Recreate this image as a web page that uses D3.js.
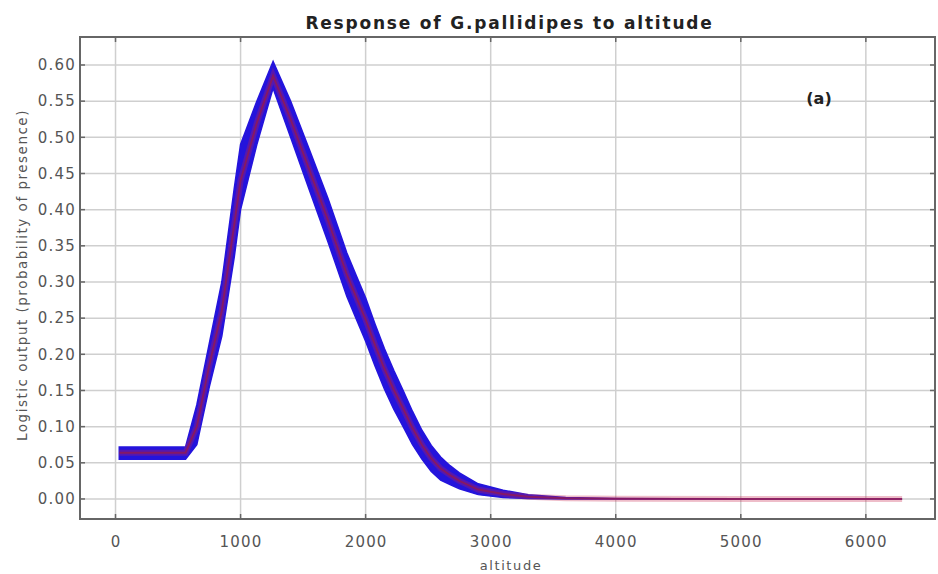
<!DOCTYPE html>
<html>
<head>
<meta charset="utf-8">
<script src="https://cdn.jsdelivr.net/npm/d3@7"></script>
<style>
  body { margin: 0; background: #fff; }
  svg { display: block; font-family: "DejaVu Sans", sans-serif; }
</style>
</head>
<body>
<svg id="chart" width="938" height="574"></svg>
<script>
// response curve (altitude -> logistic output)
// mean = red line, upper/lower = edges of the blue replicate band
const altitude = [30, 560, 650, 750, 850, 950, 1000, 1130, 1260, 1400, 1550, 1700, 1850, 1925, 2000,
  2075, 2150, 2225, 2300, 2375, 2450, 2525, 2600, 2675, 2750, 2900, 3100, 3300, 3600, 4000, 5000, 6290];
const meanValues = [0.064, 0.064, 0.10, 0.185, 0.26, 0.38, 0.44, 0.52, 0.585, 0.525, 0.455, 0.385,
  0.31, 0.279, 0.248, 0.213, 0.18, 0.151, 0.125, 0.098, 0.075, 0.056, 0.042, 0.033, 0.025,
  0.013, 0.007, 0.003, 0.001, 0.0003, 0, 0];
const upperValues = [0.072, 0.072, 0.13, 0.215, 0.30, 0.43, 0.49, 0.55, 0.605, 0.55, 0.483, 0.415,
  0.34, 0.309, 0.278, 0.242, 0.208, 0.178, 0.15, 0.121, 0.095, 0.074, 0.058, 0.046, 0.036,
  0.021, 0.012, 0.006, 0.002, 0.0005, 0, 0];
const lowerValues = [0.055, 0.055, 0.075, 0.155, 0.225, 0.335, 0.40, 0.49, 0.568, 0.50, 0.427, 0.355,
  0.28, 0.249, 0.218, 0.184, 0.152, 0.124, 0.10, 0.075, 0.055, 0.038, 0.026, 0.02, 0.014,
  0.006, 0.002, 0.0005, 0, 0, 0, 0];

const xTicks = [0, 1000, 2000, 3000, 4000, 5000, 6000];
const yTicks = [0, 0.05, 0.10, 0.15, 0.20, 0.25, 0.30, 0.35, 0.40, 0.45, 0.50, 0.55, 0.60];

const titleText = 'Response of G.pallidipes to altitude';
const xLabel = 'altitude';
const yLabel = 'Logistic output (probability of presence)';
const panelLabel = '(a)';

const plotLeft = 80, plotRight = 935, plotTop = 37, plotBottom = 519;

const x = d3.scaleLinear().domain([-284, 6553]).range([plotLeft, plotRight]);
const y = d3.scaleLinear().domain([-0.0277, 0.6387]).range([plotBottom, plotTop]);

const svg = d3.select('#chart');

// grid
svg.append('g')
  .selectAll('line')
  .data(xTicks)
  .join('line')
  .attr('x1', d => x(d)).attr('x2', d => x(d))
  .attr('y1', plotTop).attr('y2', plotBottom)
  .attr('stroke', '#cfcfcf')
  .attr('stroke-width', 1.5);

svg.append('g')
  .selectAll('line')
  .data(yTicks)
  .join('line')
  .attr('x1', plotLeft).attr('x2', plotRight)
  .attr('y1', d => y(d)).attr('y2', d => y(d))
  .attr('stroke', '#cfcfcf')
  .attr('stroke-width', 1.5);

// blue band (replicate spread) + red mean
const points = altitude.map((a, i) => ({ a: a, m: meanValues[i], hi: upperValues[i], lo: lowerValues[i] }));

svg.append('path')
  .datum(points)
  .attr('d', d3.area().x(d => x(d.a)).y0(d => y(d.lo)).y1(d => y(d.hi)))
  .attr('fill', '#2414dc')
  .attr('stroke', '#2414dc')
  .attr('stroke-width', 1.5)
  .attr('stroke-linejoin', 'miter');

// wide faint red core gives the purple mix, thin line on top
svg.append('path')
  .datum(points)
  .attr('d', d3.line().x(d => x(d.a)).y(d => y(d.m)))
  .attr('fill', 'none')
  .attr('stroke', '#c8244c')
  .attr('stroke-width', 6)
  .attr('stroke-opacity', 0.3);

svg.append('path')
  .datum(points)
  .attr('d', d3.line().x(d => x(d.a)).y(d => y(d.m)))
  .attr('fill', 'none')
  .attr('stroke', '#9a1a46')
  .attr('stroke-width', 2)
  .attr('stroke-opacity', 0.7);

// frame
svg.append('rect')
  .attr('x', plotLeft).attr('y', plotTop)
  .attr('width', plotRight - plotLeft).attr('height', plotBottom - plotTop)
  .attr('fill', 'none')
  .attr('stroke', '#666')
  .attr('stroke-width', 2);

// inner ticks on all four sides
const tickLen = 5;
const ticks = svg.append('g').attr('stroke', '#666').attr('stroke-width', 1.5);
xTicks.forEach(t => {
  ticks.append('line').attr('x1', x(t)).attr('x2', x(t)).attr('y1', plotBottom).attr('y2', plotBottom - tickLen);
  ticks.append('line').attr('x1', x(t)).attr('x2', x(t)).attr('y1', plotTop).attr('y2', plotTop + tickLen);
});
yTicks.forEach(t => {
  ticks.append('line').attr('x1', plotLeft).attr('x2', plotLeft + tickLen).attr('y1', y(t)).attr('y2', y(t));
  ticks.append('line').attr('x1', plotRight).attr('x2', plotRight - tickLen).attr('y1', y(t)).attr('y2', y(t));
});

// tick labels via d3 axes (no lines)
const xAxis = svg.append('g')
  .attr('transform', `translate(0,${plotBottom})`)
  .call(d3.axisBottom(x).tickValues(xTicks).tickSize(0).tickPadding(17).tickFormat(d3.format('d')));
const yAxis = svg.append('g')
  .attr('transform', `translate(${plotLeft},0)`)
  .call(d3.axisLeft(y).tickValues(yTicks).tickSize(0).tickPadding(4).tickFormat(d3.format('.2f')));

[xAxis, yAxis].forEach(g => {
  g.select('.domain').remove();
  g.selectAll('text')
    .attr('fill', '#555')
    .attr('letter-spacing', 1.2)
    .style('font-size', '15px')
    .style('font-family', '"DejaVu Sans", sans-serif');
});

// title
svg.append('text')
  .attr('x', (plotLeft + plotRight) / 2 + 2)
  .attr('y', 29)
  .attr('text-anchor', 'middle')
  .attr('font-weight', 'bold')
  .attr('font-size', 17)
  .attr('letter-spacing', 1.8)
  .attr('fill', '#222')
  .text(titleText);

svg.append('text')
  .attr('x', 819)
  .attr('y', 104)
  .attr('text-anchor', 'middle')
  .attr('font-weight', 'bold')
  .attr('font-size', 16)
  .attr('fill', '#222')
  .text(panelLabel);

svg.append('text')
  .attr('x', 511)
  .attr('y', 570)
  .attr('text-anchor', 'middle')
  .attr('font-size', 13)
  .attr('letter-spacing', 1.6)
  .attr('fill', '#555')
  .text(xLabel);

svg.append('text')
  .attr('transform', 'translate(27,275) rotate(-90)')
  .attr('text-anchor', 'middle')
  .attr('font-size', 13.5)
  .attr('letter-spacing', 1.5)
  .attr('fill', '#555')
  .text(yLabel);
</script>
</body>
</html>
